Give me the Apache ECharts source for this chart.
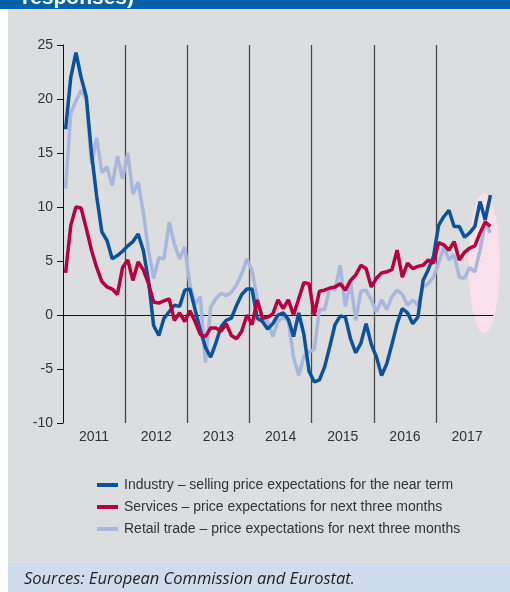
<!DOCTYPE html>
<html>
<head>
<meta charset="utf-8">
<script src="https://cdn.jsdelivr.net/npm/echarts@6/dist/echarts.min.js"></script>
<style>
html, body { margin: 0; padding: 0; background: #fff; }
#main { width: 510px; height: 592px; }
</style>
</head>
<body>
<div id="main"></div>
<script>
// monthly values, Jan 2011 .. Nov 2017 (balance of responses)
var years = ['2011', '2012', '2013', '2014', '2015', '2016', '2017'];

var industry = [17.2, 22.0, 24.3, 22.0, 20.2, 15.0, 11.0, 7.7, 6.9, 5.2,
    5.5, 5.9, 6.4, 6.8, 7.5, 6.0, 3.2, -1.0, -1.9, -0.3,
    0.3, 0.9, 0.8, 2.3, 2.4, 0.5, -1.4, -3.0, -3.9, -2.6,
    -1.1, -0.5, -0.3, 0.9, 1.9, 2.4, 2.4, -0.3, -0.6, -1.3,
    -0.8, 0.0, 0.2, -0.4, -2.0, 0.2, -1.8, -5.2, -6.2, -6.0,
    -4.8, -2.9, -0.9, -0.1, -0.2, -2.2, -3.5, -2.6, -0.8, -2.7,
    -3.9, -5.6, -4.5, -2.7, -0.8, 0.6, 0.2, -0.8, -0.2, 3.2,
    4.2, 5.4, 8.3, 9.1, 9.7, 8.2, 8.2, 7.2, 7.6, 8.2,
    10.5, 8.8, 11.1];

var services = [3.9, 8.3, 10.0, 9.9, 8.0, 6.0, 4.4, 3.1, 2.6, 2.4,
    1.9, 4.4, 5.1, 3.2, 4.9, 4.2, 2.9, 1.2, 1.1, 1.3,
    1.5, -0.5, 0.2, -0.6, 0.4, -0.6, -1.8, -2.0, -1.2, -1.2,
    -1.5, -0.8, -1.9, -2.2, -1.5, 0.0, -0.9, 1.4, -0.3, -0.2,
    0.1, 1.4, 0.6, 1.4, 0.0, 1.5, 3.0, 2.9, 0.0, 2.2,
    2.3, 2.5, 2.6, 2.9, 2.3, 3.2, 3.7, 4.6, 4.3, 2.6,
    3.4, 3.9, 4.0, 4.2, 6.0, 3.5, 4.8, 4.3, 4.5, 4.6,
    5.1, 4.8, 6.7, 6.5, 6.0, 6.8, 5.1, 5.8, 6.2, 6.4,
    7.6, 8.6, 8.2];

var retail = [11.7, 18.7, 19.8, 20.8, 20.0, 14.0, 16.4, 13.2, 13.7, 12.0,
    14.7, 12.6, 15.0, 11.2, 12.3, 9.5, 6.0, 3.4, 5.3, 5.2,
    8.6, 6.6, 5.2, 6.3, 2.8, 1.0, 1.7, -4.4, 0.7, 1.5,
    2.0, 1.8, 2.1, 2.8, 3.8, 5.2, 4.1, 1.5, -0.3, -0.6,
    -2.0, -0.6, -0.2, -0.6, -3.9, -5.6, -3.8, -3.4, -3.2, 0.5,
    0.5, 2.5, 2.3, 4.6, 0.8, 3.1, -0.5, 2.2, 2.3, 1.4,
    0.3, 1.4, 0.5, 1.7, 2.3, 1.9, 0.9, 1.4, 0.9, 2.6,
    2.9, 3.5, 4.8, 6.3, 5.1, 5.6, 3.5, 3.4, 4.4, 4.0,
    6.0, 8.5, 7.6];

var names = [
    'Industry \u2013 selling price expectations for the near term',
    'Services \u2013 price expectations for next three months',
    'Retail trade \u2013 price expectations for next three months'
];

// highlighted area at the end of the sample (months, balance)
var highlightMonths = [78.3, 84.3];
var highlightValues = [-1.7, 11.3];

var font = '"Liberation Sans", Arial, sans-serif';

function toPoints(values) {
    // each month is placed in the middle of its slot
    return values.map(function (v, i) { return [i + 0.5, v]; });
}

var myChart = echarts.init(document.getElementById('main'));

var option = {
    backgroundColor: '#fff',
    animation: false,
    grid: { left: 63, right: 17, top: 45, bottom: 169 },
    legend: {
        data: names,
        orient: 'vertical',
        left: 92,
        top: 473,
        icon: 'rect',
        itemWidth: 21,
        itemHeight: 4,
        itemGap: 8,
        selectedMode: false,
        textStyle: { color: '#333', fontSize: 14, fontFamily: font, padding: [0, 0, 0, 1] }
    },
    xAxis: [
        {
            type: 'value',
            min: 0,
            max: 83,
            interval: 12,
            axisLine: { onZero: true, lineStyle: { color: '#111', width: 1 } },
            axisTick: { show: false },
            axisLabel: { show: false },
            splitLine: {
                show: true,
                showMinLine: false,
                showMaxLine: false,
                lineStyle: { color: '#4a4a4a', width: 1.3 }
            }
        },
        {
            type: 'value',
            min: 0,
            max: 83,
            interval: 6,
            position: 'bottom',
            axisLine: { show: false },
            axisTick: { show: false },
            splitLine: { show: false },
            axisLabel: {
                color: '#333',
                fontSize: 14,
                fontFamily: font,
                margin: 7,
                showMinLabel: false,
                showMaxLabel: false,
                formatter: function (v) {
                    return v % 12 === 6 ? years[(v - 6) / 12] : '';
                }
            }
        }
    ],
    yAxis: {
        type: 'value',
        min: -10,
        max: 25,
        interval: 5,
        axisLine: { show: true, lineStyle: { color: '#111', width: 1 } },
        axisTick: { show: true, length: 6, lineStyle: { color: '#111' } },
        axisLabel: { color: '#333', fontSize: 14, fontFamily: font, margin: 10 },
        splitLine: { show: false }
    },
    series: [
        {
            name: names[0],
            type: 'line',
            data: toPoints(industry),
            symbol: 'none',
            z: 4,
            color: '#0a539c',
            lineStyle: { width: 3.5, color: '#0a539c' }
        },
        {
            name: names[1],
            type: 'line',
            data: toPoints(services),
            symbol: 'none',
            z: 5,
            color: '#b8003e',
            lineStyle: { width: 3.5, color: '#b8003e' }
        },
        {
            name: names[2],
            type: 'line',
            data: toPoints(retail),
            symbol: 'none',
            z: 3,
            color: '#a9b7dd',
            lineStyle: { width: 3.5, color: '#a9b7dd' }
        }
    ]
};

myChart.setOption(option);

// place the highlight ellipse through the chart's own scales
var p0 = myChart.convertToPixel({ gridIndex: 0 }, [highlightMonths[0], highlightValues[1]]);
var p1 = myChart.convertToPixel({ gridIndex: 0 }, [highlightMonths[1], highlightValues[0]]);

myChart.setOption({
    graphic: [
        { type: 'rect', z: -6, silent: true, shape: { x: 0, y: 0, width: 510, height: 9 }, style: { fill: '#0061ab' } },
        { type: 'text', z: -5, silent: true, x: 22, y: -12,
          style: { text: 'responses)', fill: '#fff', font: 'bold 21px ' + font } },
        { type: 'rect', z: -4, silent: true, shape: { x: 8, y: 9, width: 502, height: 554 }, style: { fill: '#dcdddf' } },
        { type: 'rect', z: -4, silent: true, shape: { x: 8, y: 563, width: 502, height: 29 }, style: { fill: '#cedcec' } },
        { type: 'text', z: -3, silent: true, x: 24, y: 571,
          style: { text: 'Sources: European Commission and Eurostat.', fill: '#222', font: 'italic 16.5px "Open Sans", sans-serif' } },
        { type: 'ellipse', z: -3, silent: true,
          shape: { cx: (p0[0] + p1[0]) / 2, cy: (p0[1] + p1[1]) / 2, rx: (p1[0] - p0[0]) / 2, ry: (p1[1] - p0[1]) / 2 },
          style: { fill: '#f9e0ea' } }
    ]
});
</script>
</body>
</html>
